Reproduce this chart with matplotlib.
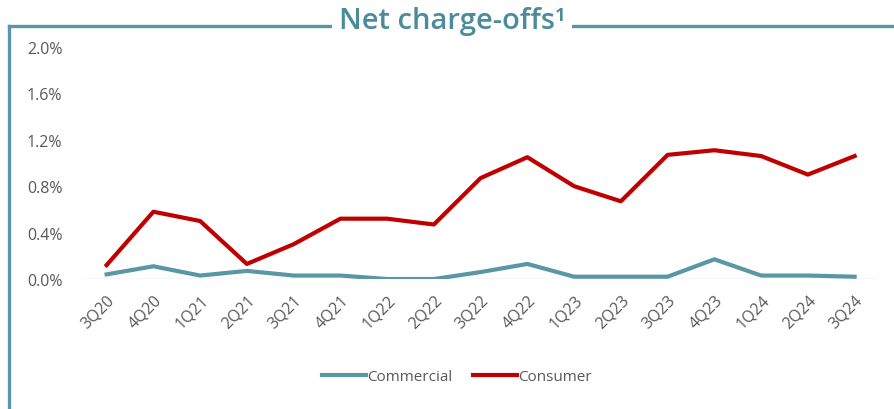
import numpy as np
import matplotlib.pyplot as plt
from matplotlib.lines import Line2D

plt.rcParams['font.family'] = ['Open Sans', 'DejaVu Sans']

trimestres = ['3Q20', '4Q20', '1Q21', '2Q21', '3Q21', '4Q21', '1Q22', '2Q22', '3Q22',
              '4Q22', '1Q23', '2Q23', '3Q23', '4Q23', '1Q24', '2Q24', '3Q24']
commercial = [0.04, 0.11, 0.03, 0.07, 0.03, 0.03, 0.00, 0.00, 0.06,
              0.13, 0.02, 0.02, 0.02, 0.17, 0.03, 0.03, 0.02]
consumer = [0.12, 0.58, 0.50, 0.13, 0.30, 0.52, 0.52, 0.47, 0.87,
            1.05, 0.80, 0.67, 1.07, 1.11, 1.06, 0.90, 1.06]
yticks = [0.0, 0.4, 0.8, 1.2, 1.6, 2.0]

teal = '#5a97a5'
rojo = '#c00000'
gris = '#595959'

fig = plt.figure(figsize=(8.95, 4.10), dpi=100)
ax = fig.add_axes([0.093, 0.317, 0.888, 0.566])

x = np.arange(len(trimestres))
ax.axhline(0, color='#d9d9d9', lw=1, zorder=1)
ax.plot(x, commercial, color=teal, lw=3, label='Commercial', zorder=3)
ax.plot(x, consumer, color=rojo, lw=3, label='Consumer', zorder=3)

ax.set_xlim(-0.5, len(trimestres) - 0.5)
ax.set_ylim(0, 2.0)
ax.set_yticks(yticks)
ax.set_yticklabels(['%.1f%%' % v for v in yticks])
ax.set_xticks(x)
ax.set_xticklabels(trimestres, rotation=45, ha='right', rotation_mode='anchor')
ax.tick_params(axis='both', length=0, colors=gris, labelsize=11.5)
ax.tick_params(axis='y', pad=15)
ax.tick_params(axis='x', pad=9)
for s in ax.spines.values():
    s.set_visible(False)

ax.legend(loc='center', bbox_to_anchor=(0.47, -0.42), ncol=2, frameon=False,
          fontsize=11, labelcolor=gris, handlelength=2.9, handletextpad=0.1,
          columnspacing=1.3)

# marco
y_top = 1 - 27 / 410
x_left = 9 / 895
fig.add_artist(Line2D([x_left, 1], [y_top, y_top], color=teal, lw=2.4))
fig.add_artist(Line2D([x_left, x_left], [y_top, 0], color=teal, lw=2.4))
fig.text(0.505, 1 - 22 / 410, 'Net charge-offs\u00b9', ha='center', va='center',
         fontsize=21, fontweight='semibold', color='#4b8c9c',
         bbox=dict(facecolor='white', edgecolor='none', pad=5))

plt.savefig('out.png')
